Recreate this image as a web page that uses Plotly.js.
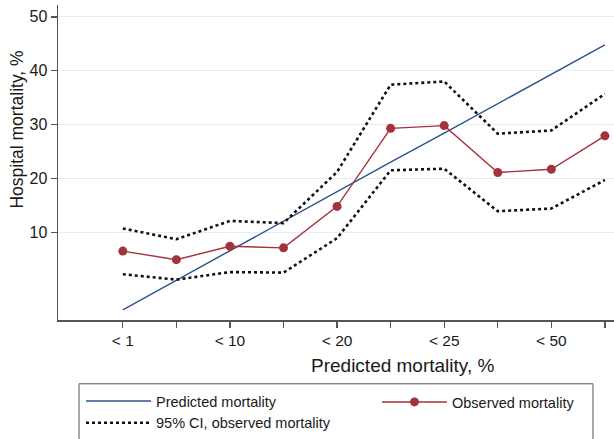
<!DOCTYPE html>
<html>
<head>
<meta charset="utf-8">
<script src="https://cdn.plot.ly/plotly-3.0.1.min.js"></script>
<style>html,body{margin:0;padding:0;background:#fff;}#chart{width:614px;height:439px;}</style>
</head>
<body>
<div id="chart"></div>
<script>
// category positions and labels
var categories = [1, 2, 3, 4, 5, 6, 7, 8, 9, 10];
var tickLabels = ["< 1", "", "< 10", "", "< 20", "", "< 25", "", "< 50", ""];

// series values (%)
var predicted = [-4.4, 1.1, 6.6, 12.0, 17.5, 23.0, 28.4, 33.9, 39.4, 44.8];
var observed  = [6.5, 4.9, 7.4, 7.1, 14.8, 29.3, 29.8, 21.1, 21.7, 27.9];
var ciUpper   = [10.7, 8.7, 12.1, 11.7, 21.2, 37.4, 38.0, 28.3, 28.9, 35.7];
var ciLower   = [2.2, 1.2, 2.6, 2.5, 8.9, 21.5, 21.8, 13.9, 14.4, 19.7];

var fontFam = "Liberation Sans, Arial, Helvetica, sans-serif";
var txt = "#1a1a1a";

var traces = [
  {x: categories, y: predicted, type: "scatter", mode: "lines", name: "Predicted mortality",
   legend: "legend", line: {color: "#2b5389", width: 1.4}},
  {x: categories, y: observed, type: "scatter", mode: "lines+markers", name: "Observed mortality",
   legend: "legend2", line: {color: "#a3323a", width: 1.4}, marker: {color: "#a3323a", size: 9}},
  {x: categories, y: ciUpper, type: "scatter", mode: "lines", name: "95% CI, observed mortality",
   legend: "legend", line: {color: "#111", width: 2.6, dash: "dot"}},
  {x: categories, y: ciLower, type: "scatter", mode: "lines", name: "95% CI lower", showlegend: false,
   line: {color: "#111", width: 2.6, dash: "dot"}}
];

var legendCommon = {
  orientation: "v", xref: "paper", yref: "paper", xanchor: "left", yanchor: "top",
  borderwidth: 0, bgcolor: "rgba(0,0,0,0)", itemwidth: 65, traceorder: "normal",
  font: {family: fontFam, size: 14.5, color: txt}
};

var layout = {
  width: 614, height: 439,
  margin: {l: 58, r: 0, t: 5, b: 118},
  paper_bgcolor: "#fff", plot_bgcolor: "#fff",
  font: {family: fontFam, size: 15, color: txt},
  showlegend: true,
  legend: Object.assign({}, legendCommon, {x: 0.0414, y: -0.2057}),
  legend2: Object.assign({}, legendCommon, {x: 0.5737, y: -0.2057}),
  xaxis: {
    range: [-0.21, 10.17], tickmode: "array", tickvals: categories, ticktext: tickLabels,
    ticks: "outside", ticklen: 6, tickwidth: 1.3, tickcolor: "#555",
    showline: true, linecolor: "#555", linewidth: 1.5, showgrid: false, zeroline: false,
    tickfont: {size: 15.5, color: txt},
    automargin: false, fixedrange: true
  },
  yaxis: {
    range: [-6.3, 52.2], tickvals: [10, 20, 30, 40, 50],
    ticks: "outside", ticklen: 6, tickwidth: 1.3, tickcolor: "#555",
    showline: true, linecolor: "#555", linewidth: 1.5,
    showgrid: true, gridcolor: "#e4edf3", gridwidth: 1, zeroline: false,
    tickfont: {size: 16, color: txt}, automargin: false, fixedrange: true
  },
  shapes: [
    {type: "rect", xref: "paper", yref: "paper", x0: 0.0378, x1: 0.9622, y0: -0.2025, y1: -0.40,
     line: {color: "#555", width: 1}, fillcolor: "rgba(0,0,0,0)", layer: "below"}
  ],
  annotations: [
    {text: "Hospital mortality, %", xref: "paper", yref: "paper", x: -0.0728, y: 0.603,
     xanchor: "center", yanchor: "middle", textangle: -90, showarrow: false,
     font: {size: 17.5, color: txt, family: fontFam}},
    {text: "Predicted mortality, %", xref: "paper", yref: "paper", x: 0.6196, y: -0.144,
     xanchor: "center", yanchor: "middle", showarrow: false,
     font: {size: 19, color: txt, family: fontFam}}
  ]
};

Plotly.newPlot("chart", traces, layout, {displayModeBar: false, staticPlot: true});
</script>
</body>
</html>
